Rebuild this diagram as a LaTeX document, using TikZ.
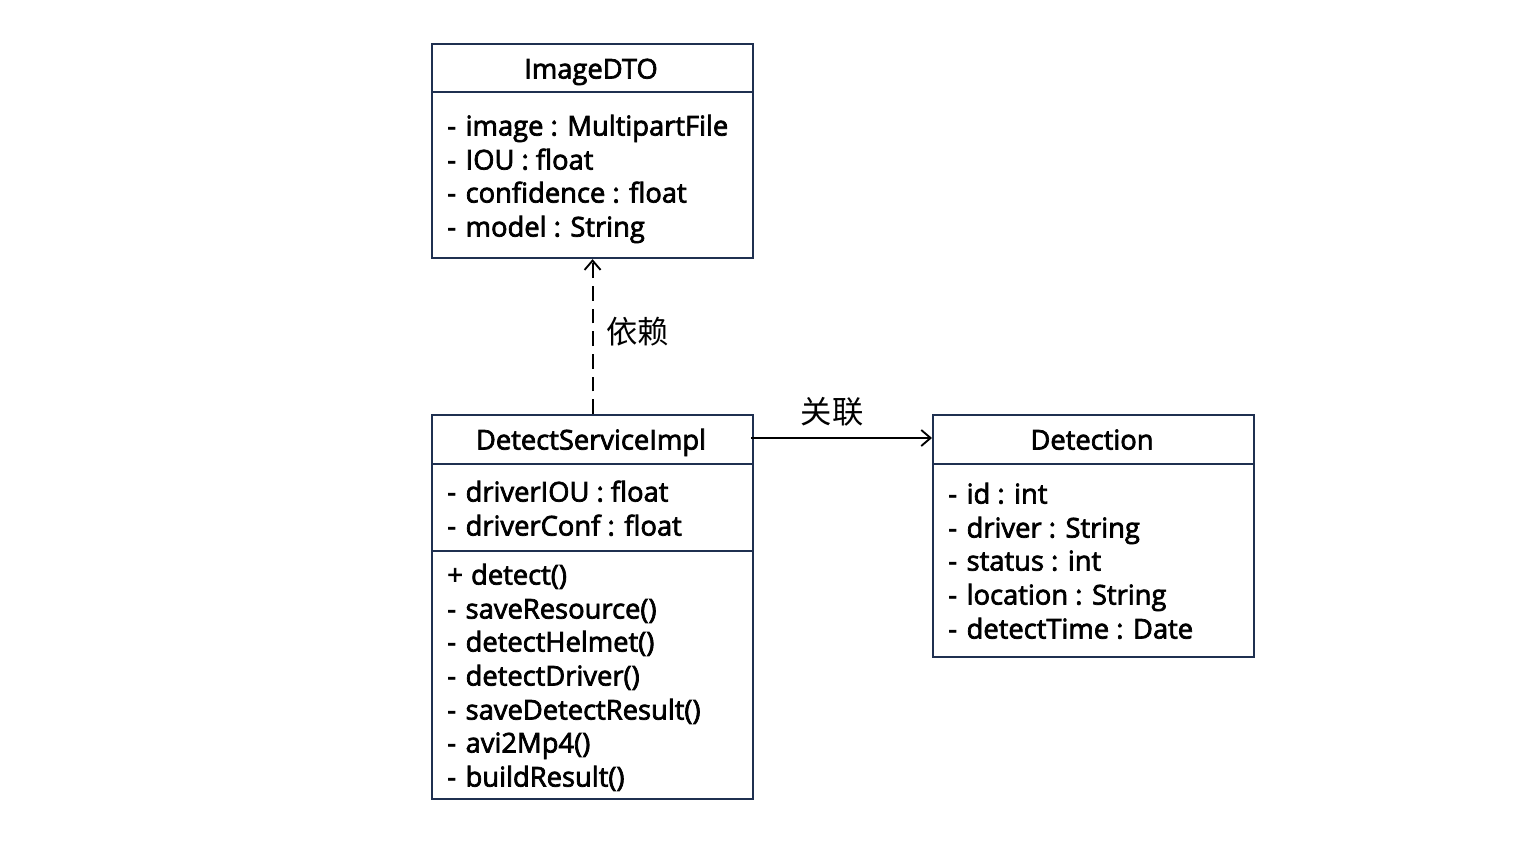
\documentclass[tikz,border=0pt]{standalone}
\usepackage{fontspec}
\setmainfont{Open Sans}
\newfontfamily\umlfont{Open Sans}[FakeBold=2.6]
\newfontfamily\cjk{Noto Sans CJK SC}
\usetikzlibrary{arrows.meta}
\definecolor{boxline}{HTML}{1F3050}
\newcommand{\dsh}{-\hspace{0.35em}}
\newcommand{\pls}{+\hspace{0.3em}}
\tikzset{
  umlbox/.style={draw=boxline, line width=1.6pt, anchor=north west, inner sep=0pt, minimum width=321*0.75pt},
  divider/.style={draw=boxline, line width=1.6pt},
  title/.style={font=\umlfont\fontsize{20.5}{22}\selectfont, anchor=mid, inner sep=0pt},
  item/.style={font=\umlfont\fontsize{20.5}{22}\selectfont, anchor=mid west, inner sep=0pt},
  lbl/.style={font=\cjk\fontsize{23.5}{26}\selectfont, inner sep=0pt},
  conn/.style={line width=1.5pt, -{Straight Barb[length=7pt,width=12pt,line width=1.4pt]}},
}
\begin{document}
\begin{tikzpicture}[x=0.75pt,y=-0.75pt]
\useasboundingbox (0,0) rectangle (1534,860);
% ImageDTO
\node[umlbox, minimum height=214*0.75pt] (img) at (431,43) {};
\draw[divider] (431,92) -- (752,92);
\node[title] (imgt) at (591,75) {ImageDTO};
\node[item] (i1) at (447,132) {\dsh image : MultipartFile};
\node[item] (i2) at (447,166) {\dsh IOU : float};
\node[item] (i3) at (447,199) {\dsh confidence : float};
\node[item] (i4) at (447,233) {\dsh model : String};
% DetectServiceImpl
\node[umlbox, minimum height=384*0.75pt] (svc) at (431,414) {};
\draw[divider] (431,464) -- (752,464);
\draw[divider] (431,551) -- (752,551);
\node[title] (svct) at (591,446) {DetectServiceImpl};
\node[item] (s1) at (447,498) {\dsh driverIOU : float};
\node[item] (s2) at (447,532) {\dsh driverConf : float};
\node[item] (m1) at (447,581) {\pls detect()};
\node[item] (m2) at (447,615) {\dsh saveResource()};
\node[item] (m3) at (447,648) {\dsh detectHelmet()};
\node[item] (m4) at (447,682) {\dsh detectDriver()};
\node[item] (m5) at (447,716) {\dsh saveDetectResult()};
\node[item] (m6) at (447,749) {\dsh avi2Mp4()};
\node[item] (m7) at (447,783) {\dsh buildResult()};
% Detection
\node[umlbox, minimum height=242*0.75pt] (det) at (932,414) {};
\draw[divider] (932,464) -- (1253,464);
\node[title] (dett) at (1092,446) {Detection};
\node[item] (d1) at (948,500) {\dsh id : int};
\node[item] (d2) at (948,534) {\dsh driver : String};
\node[item] (d3) at (948,567) {\dsh status : int};
\node[item] (d4) at (948,601) {\dsh location : String};
\node[item] (d5) at (948,635) {\dsh detectTime : Date};
% connectors
\draw[conn, dash pattern=on 11pt off 6pt] (svc.north) -- (img.south);
\node[lbl, anchor=west] (dep) at (606,332) {依赖};
\draw[conn] (751,438) -- (det.west |- 0,438);
\node[lbl] (assoc) at (832,412) {关联};
\end{tikzpicture}
\end{document}
